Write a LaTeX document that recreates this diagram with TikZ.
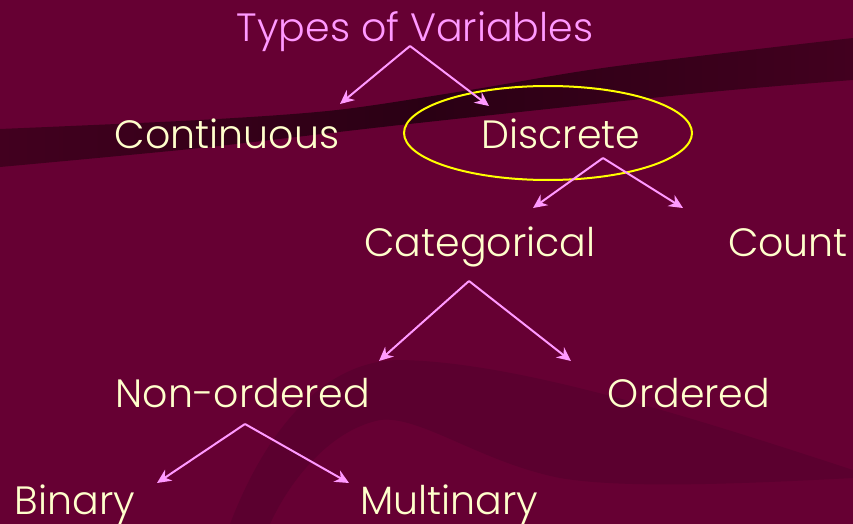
\documentclass[tikz,border=0pt]{standalone}
\usepackage{fontspec}
\IfFontExistsTF{Poppins Light}{\setmainfont{Poppins Light}}{\setmainfont{Poppins}}
\usetikzlibrary{arrows.meta,shapes.geometric}
\definecolor{bg}{HTML}{660033}
\definecolor{bandD}{HTML}{2A0014}
\definecolor{bandL}{HTML}{42001F}
\definecolor{cres}{HTML}{5B002F}
\definecolor{txt}{HTML}{FFFFCC}
\definecolor{pinkc}{HTML}{FF99FF}
\definecolor{ellc}{HTML}{FFFF00}
\tikzset{
  lbl/.style={anchor=base,inner sep=0pt,text=txt,font=\fontsize{39.5}{44}\selectfont},
  ttl/.style={lbl,text=pinkc},
  arr/.style={draw=pinkc,line width=2pt,-{Stealth[length=14pt,width=13pt,inset=4.5pt]}},
}
\begin{document}
\begin{tikzpicture}[x=1pt,y=-1pt]
\useasboundingbox (0,0) rectangle (853,524);
\fill[bg] (0,0) rectangle (853,524);
% dark swoosh band
\shade[left color=bandL,right color=bandL,middle color=bandD]
  plot[smooth] coordinates {(0,129) (200,120) (337,110) (470,90) (610,67) (853,38)}
  -- plot[smooth] coordinates {(853,80) (700,93) (400,125) (200,148) (0,167)} -- cycle;
% lower crescent
\fill[cres] (230,524) .. controls (270,420) and (330,360) .. (400,360)
  .. controls (520,362) and (700,420) .. (853,470) -- (853,478)
  .. controls (720,485) and (620,488) .. (560,478)
  .. controls (480,462) and (420,415) .. (380,420)
  .. controls (330,430) and (290,480) .. (270,524) -- cycle;
% ellipse
\node[draw=ellc,line width=2pt,ellipse,minimum width=288pt,minimum height=94pt,inner sep=0pt] (ell) at (548,133) {};
% texts
\node[ttl] (types) at (415,42) {Types of Variables};
\node[lbl] (cont) at (227,148) {Continuous};
\node[lbl] (disc) at (561,148) {Discrete};
\node[lbl] (cat) at (480,256) {Categorical};
\node[lbl] (count) at (788,256) {Count};
\node[lbl] (nono) at (243,407) {Non-ordered};
\node[lbl] (ord) at (689,407) {Ordered};
\node[lbl] (bin) at (75,514) {Binary};
\node[lbl] (mult) at (449,514) {Multinary};
% connector coordinates
\coordinate (a1) at (410,46);
\coordinate (t1) at (340,104);
\coordinate (t2) at (489,106);
\coordinate (a2) at (603,158);
\coordinate (t3) at (533,208);
\coordinate (t4) at (683,208);
\coordinate (a3) at (469,281);
\coordinate (t5) at (379,361);
\coordinate (t6) at (571,361);
\coordinate (a4) at (245,424);
\coordinate (t7) at (157,483);
\coordinate (t8) at (349,483);
\draw[arr] (a1) -- (t1);
\draw[arr] (a1) -- (t2);
\draw[arr] (a2) -- (t3);
\draw[arr] (a2) -- (t4);
\draw[arr] (a3) -- (t5);
\draw[arr] (a3) -- (t6);
\draw[arr] (a4) -- (t7);
\draw[arr] (a4) -- (t8);
\end{tikzpicture}
\end{document}
